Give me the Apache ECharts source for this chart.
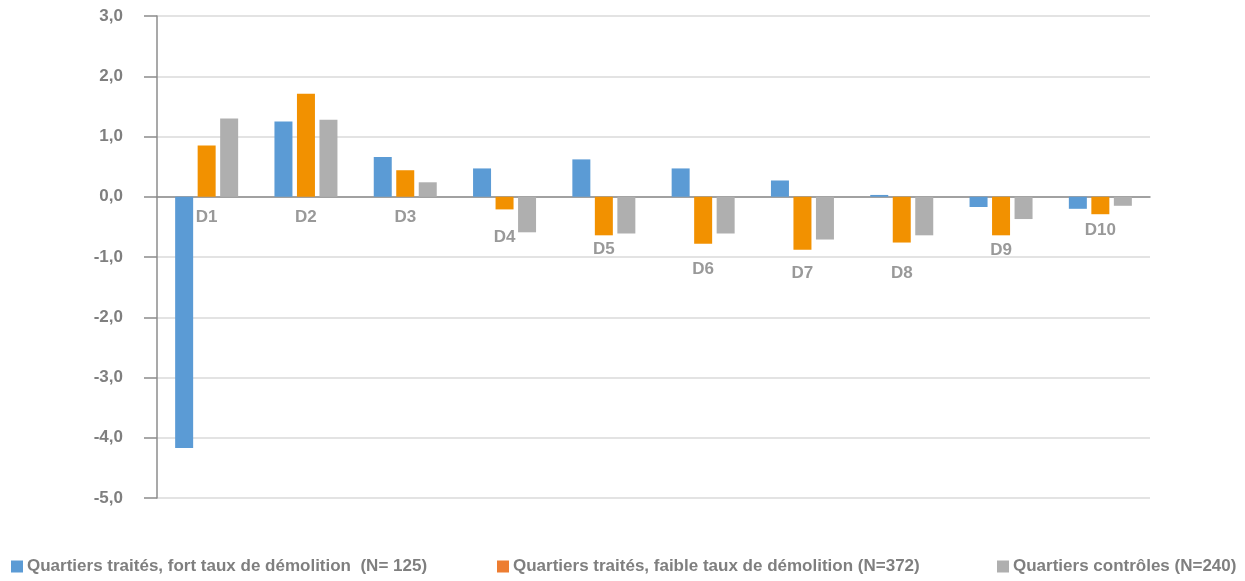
<!DOCTYPE html>
<html>
<head>
<meta charset="utf-8">
<script src="https://cdn.jsdelivr.net/npm/echarts@6/dist/echarts.min.js"></script>
<style>
  html, body { margin: 0; padding: 0; background: #fff; }
  #chart { width: 1245px; height: 581px; }
</style>
</head>
<body>
<div id="chart"></div>
<script>
// Déciles de revenu
const categories = ['D1', 'D2', 'D3', 'D4', 'D5', 'D6', 'D7', 'D8', 'D9', 'D10'];

// Évolution par décile (points)
const fortDemolition   = [-4.17, 1.25, 0.66, 0.47, 0.62, 0.47, 0.27, 0.03, -0.17, -0.20];
const faibleDemolition = [0.85, 1.71, 0.44, -0.21, -0.64, -0.78, -0.88, -0.76, -0.64, -0.29];
const controles        = [1.30, 1.28, 0.24, -0.59, -0.61, -0.61, -0.71, -0.64, -0.37, -0.15];

const seriesNames = [
  'Quartiers traités, fort taux de démolition  (N= 125)',
  'Quartiers traités, faible taux de démolition (N=372)',
  'Quartiers contrôles (N=240)'
];

// Height (in axis units) at which each decile name is written under its bars
const decileLabelDepth = [-0.34, -0.34, -0.34, -0.67, -0.87, -1.20, -1.27, -1.27, -0.89, -0.55];

const yTicks = { min: -5, max: 3, interval: 1 };

const colors = ['#5B9BD5', '#F29100', '#AFAFAF'];
const legendColors = ['#5B9BD5', '#ED7D31', '#AFAFAF'];
const legendLeft = [6, 492, 992];

const font = 'Liberation Sans, Arial, sans-serif';
const chart = echarts.init(document.getElementById('chart'), null, { renderer: 'canvas' });

const barSeries = [fortDemolition, faibleDemolition, controles].map((vals, i) => ({
  name: seriesNames[i],
  type: 'bar',
  data: vals,
  barWidth: 18,
  barGap: '25%',
  itemStyle: { color: colors[i] },
  emphasis: { disabled: true }
}));

const labelSeries = {
  name: 'deciles',
  type: 'scatter',
  symbolSize: 1,
  silent: true,
  itemStyle: { color: 'rgba(0,0,0,0)' },
  data: categories.map((c, i) => [c, decileLabelDepth[i]]),
  label: {
    show: true,
    position: 'inside',
    formatter: p => p.value[0],
    fontFamily: font,
    fontWeight: 'bold',
    fontSize: 17,
    color: '#808080'
  }
};

// one legend block per series, laid out along the bottom edge
const legends = seriesNames.map((n, i) => ({
  left: legendLeft[i],
  top: 553,
  icon: 'rect',
  itemWidth: 12,
  itemHeight: 12,
  selectedMode: false,
  data: [{ name: n, itemStyle: { color: legendColors[i] } }],
  textStyle: {
    fontFamily: font,
    fontWeight: 'bold',
    fontSize: 17,
    color: '#7F7F7F',
    padding: [0, 0, 0, -1]
  }
}));

chart.setOption({
  animation: false,
  textStyle: { fontFamily: font },
  grid: { left: 157, right: 95, top: 16, bottom: 83, containLabel: false },
  legend: legends,
  xAxis: {
    type: 'category',
    data: categories,
    axisLine: { onZero: true, lineStyle: { color: '#8C8C8C', width: 1.5 } },
    axisTick: { show: false },
    axisLabel: { show: false },
    splitLine: { show: false }
  },
  yAxis: {
    type: 'value',
    min: yTicks.min,
    max: yTicks.max,
    interval: yTicks.interval,
    axisLine: { show: true, lineStyle: { color: '#8C8C8C', width: 1.5 } },
    axisTick: { show: true, inside: false, length: 13, lineStyle: { color: '#8C8C8C', width: 1.5 } },
    axisLabel: {
      margin: 34,
      formatter: v => v.toFixed(1).replace('.', ','),
      fontFamily: font,
      fontWeight: 'bold',
      fontSize: 17,
      color: '#7F7F7F'
    },
    splitLine: { show: true, lineStyle: { color: '#DADADA', width: 1.5 } }
  },
  series: [...barSeries, labelSeries]
});
</script>
</body>
</html>
